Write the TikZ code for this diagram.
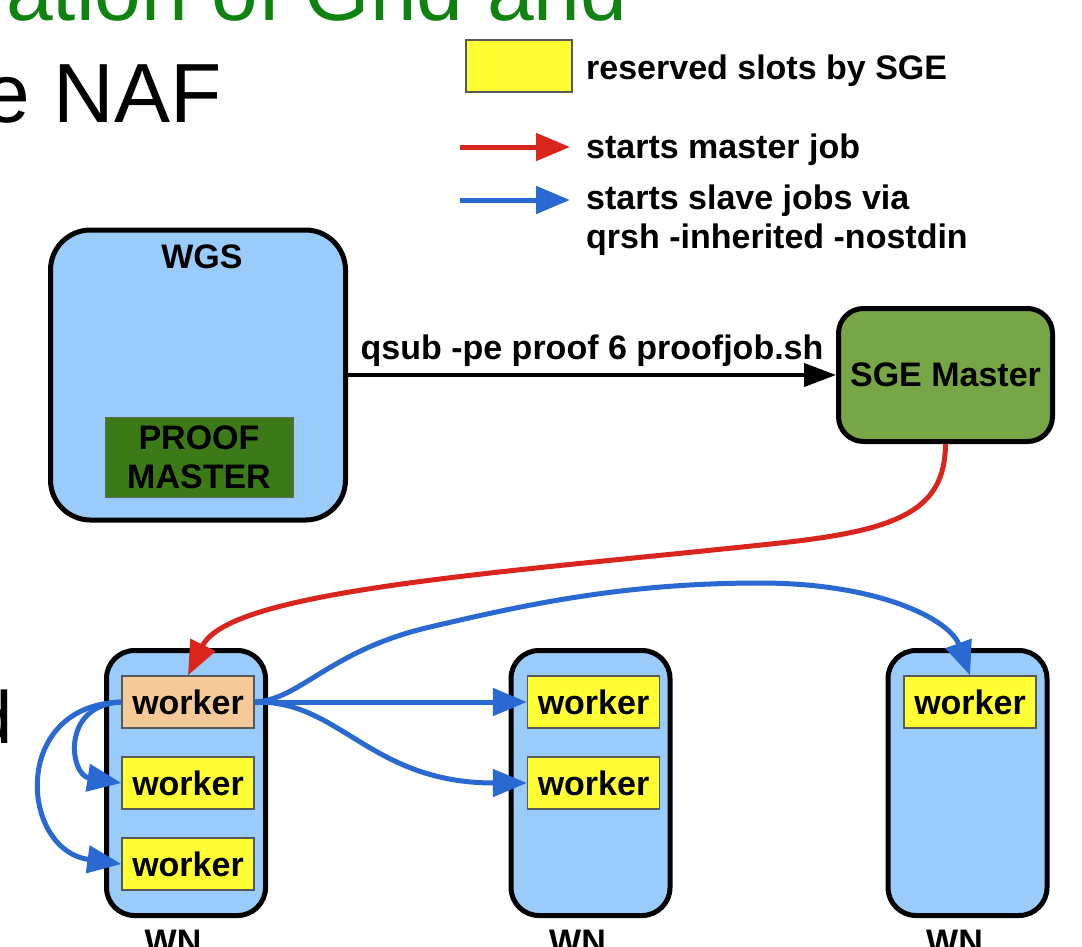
\documentclass[tikz,border=0pt]{standalone}
\usepackage{fontspec}
\setmainfont{Liberation Sans}
\usetikzlibrary{arrows.meta,positioning}

\definecolor{host_blue}{RGB}{153,204,250}
\definecolor{proof_green}{RGB}{60,122,24}
\definecolor{sge_green}{RGB}{119,166,70}
\definecolor{slot_yellow}{RGB}{255,255,51}
\definecolor{master_orange}{RGB}{245,202,152}
\definecolor{job_red}{RGB}{218,37,29}
\definecolor{job_blue}{RGB}{42,104,210}
\definecolor{title_green}{RGB}{16,130,16}

\begin{document}
\begin{tikzpicture}[x=1pt, y=-1pt,
    every node/.style={font=\fontsize{34}{39}\selectfont\bfseries, inner sep=0pt},
    host/.style={draw, line width=5pt, fill=host_blue},
    slot/.style={draw=black!65, line width=1.3pt, fill=slot_yellow,
        minimum width=132pt, minimum height=52pt},
    slide/.style={font=\fontsize{84}{90}\selectfont},
    red_job/.style={draw=job_red, line width=5pt, -{Triangle[length=34pt,width=27pt]}},
    blue_job/.style={draw=job_blue, line width=5pt, -{Triangle[length=34pt,width=27pt]}}]
    \path[use as bounding box] (0,0) rectangle (1082,946);
    \clip (0,0) rectangle (1082,946);
    % slide text behind the figure
    \node[slide, text=title_green, anchor=base west] (title) at (6,20) {ation of Grid and};
    \node[slide, anchor=base east] (subtitle) at (222,122) {e NAF};
    \node[slide, font=\fontsize{74}{80}\selectfont, anchor=base east] (cutword) at (13,743) {d};
    % legend
    \node[slot, minimum width=106pt, minimum height=52pt] (key_slot) at (519,66) {};
    \node[anchor=base west] (key_slot_txt) at (586,79) {reserved slots by SGE};
    \node[anchor=base west] (key_red_txt) at (586,158) {starts master job};
    \node[anchor=base west, align=left] (key_blue_txt) at (586,248) {starts slave jobs via\\qrsh -inherited -nostdin};
    \coordinate (key_red) at (460,147);
    \coordinate (key_blue) at (460,200);
    \draw[red_job, shorten >=16pt] (key_red) -- (key_red -| key_red_txt.west);
    \draw[blue_job, shorten >=16pt] (key_blue) -- (key_blue -| key_blue_txt.west);
    % workgroup server and SGE master
    \node[host, rounded corners=40pt, minimum width=295pt, minimum height=290pt] (wgs) at (198,375) {};
    \node (wgs_txt) at (202,257) {WGS};
    \node[draw=black!60, line width=1pt, fill=proof_green, minimum width=188pt, minimum height=80pt, align=center] (proof) at (199,457) {PROOF\\MASTER};
    \node[draw, line width=5pt, fill=sge_green, rounded corners=25pt, minimum width=214pt, minimum height=133pt] (sge) at (945.5,375) {SGE Master};
    \draw[line width=4pt, -{Triangle[length=32pt,width=23pt]}] (wgs.east) -- (sge.west)
        node[midway, above=6pt] (qsub) {qsub -pe proof 6 proofjob.sh};
    % worker nodes
    \foreach \n/\x in {wn1/186, wn2/590.5, wn3/967.5} {
        \node[host, rounded corners=28pt, minimum width=159pt, minimum height=265pt] (\n) at (\x,783) {};
        \node[below=12pt of \n, xshift=-13pt] (\n_txt) {WN};
    }
    \foreach \n/\x/\y in {w11/188/702, w12/188/783, w13/188/864, w21/593.5/702, w22/593.5/783, w31/970/702}
        \node[slot] (\n) at (\x,\y) {worker};
    \node[slot, fill=master_orange] at (w11) {worker};
    % master job
    \draw[red_job] (sge.south) .. controls (945,510) and (900,530) .. (780,543)
        .. controls (500,573) and (230,590) .. (w11.north);
    % slave jobs
    \draw[blue_job] (w11.east) -- (w21.west);
    \draw[blue_job] (w11.east) .. controls (340,700) and (370,783) .. (w22.west);
    \draw[blue_job] (w11.east) .. controls (300,700) and (330,650) .. (430,627)
        .. controls (520,606) and (620,583) .. (760,583)
        .. controls (880,583) and (950,620) .. (w31.north);
    \draw[blue_job] (w11.west) .. controls (60,705) and (70,775) .. (w12.west);
    \draw[blue_job] (w11.west) .. controls (10,705) and (20,850) .. (w13.west);
\end{tikzpicture}
\end{document}
